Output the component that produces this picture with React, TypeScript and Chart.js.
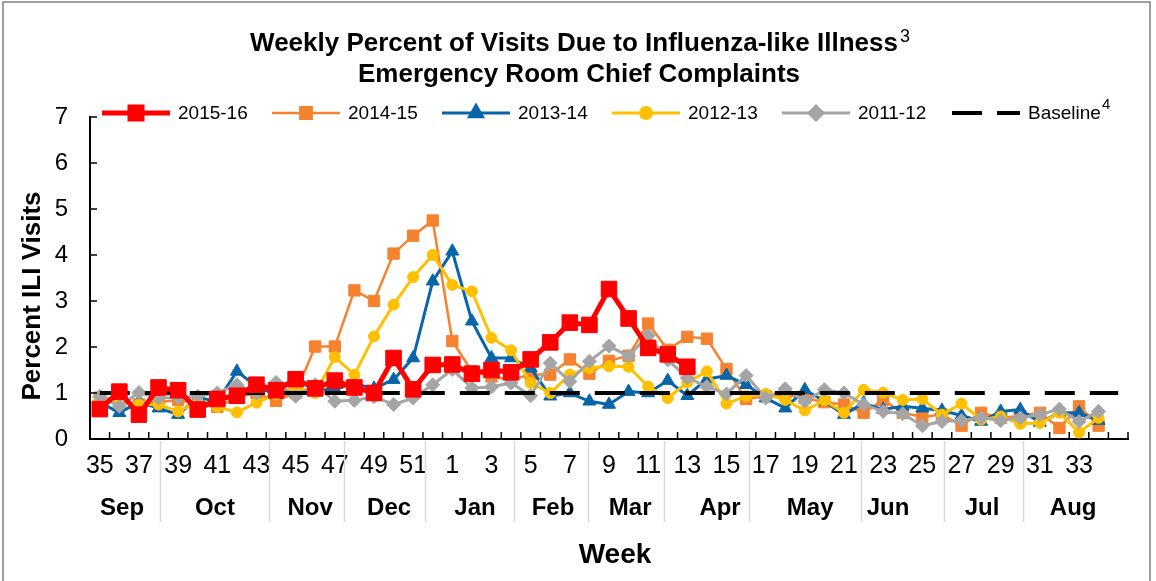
import { useEffect, useRef } from "react";
import { Chart, registerables } from "chart.js";
import { drawPoint } from "chart.js/helpers";

Chart.register(...registerables);

const weeks = [
  "35", "36", "37", "38", "39", "40", "41", "42", "43", "44", "45", "46", "47", "48", "49", "50", "51", "52",
  "1", "2", "3", "4", "5", "6", "7", "8", "9", "10", "11", "12", "13", "14", "15", "16", "17", "18",
  "19", "20", "21", "22", "23", "24", "25", "26", "27", "28", "29", "30", "31", "32", "33", "34", "",
];

const season2015 = [
  0.65, 1.03, 0.53, 1.12, 1.06, 0.64, 0.87, 0.94, 1.18, 1.06, 1.3, 1.1, 1.27, 1.12, 1.0, 1.76, 1.08, 1.61,
  1.62, 1.42, 1.5, 1.45, 1.73, 2.1, 2.53, 2.48, 3.26, 2.62, 1.98, 1.84, 1.57,
];
const season2014 = [
  0.9, 0.85, 0.75, 0.8, 0.85, 0.75, 0.7, 0.9, 1.0, 0.83, 1.0, 2.01, 2.01, 3.23, 3.0, 4.03, 4.42, 4.75,
  2.13, 1.47, 1.36, 1.29, 1.4, 1.4, 1.73, 1.42, 1.7, 1.81, 2.51, 1.94, 2.22, 2.18, 1.52, 0.87, 0.93, 0.96,
  0.89, 0.8, 0.75, 0.57, 0.85, 0.57, 0.48, 0.53, 0.29, 0.57, 0.46, 0.5, 0.57, 0.24, 0.71, 0.29,
];
const season2013 = [
  0.8, 0.57, 0.8, 0.67, 0.53, 0.9, 0.82, 1.47, 1.14, 0.96, 1.0, 1.05, 1.09, 1.2, 1.1, 1.29, 1.76, 3.43,
  4.08, 2.56, 1.76, 1.76, 1.54, 0.93, 1.0, 0.82, 0.75, 1.03, 1.0, 1.27, 0.94, 1.3, 1.38, 1.18, 0.89, 0.67,
  1.07, 0.82, 0.53, 0.78, 0.64, 0.71, 0.67, 0.62, 0.51, 0.38, 0.6, 0.64, 0.36, 0.57, 0.57, 0.4,
];
const season2012 = [
  0.88, 0.8, 0.75, 0.75, 0.6, 0.8, 0.7, 0.58, 0.79, 0.97, 1.13, 1.0, 1.78, 1.4, 2.23, 2.92, 3.52, 4.0,
  3.35, 3.21, 2.2, 1.93, 1.22, 1.0, 1.4, 1.54, 1.58, 1.57, 1.14, 0.89, 1.23, 1.47, 0.77, 0.93, 0.98, 0.85,
  0.62, 0.84, 0.57, 1.07, 1.01, 0.85, 0.87, 0.53, 0.77, 0.42, 0.49, 0.33, 0.35, 0.57, 0.14, 0.46,
];
const season2011 = [
  0.93, 0.71, 1.01, 0.89, 0.9, 0.93, 1.0, 1.18, 1.0, 1.23, 0.93, 1.18, 0.82, 0.84, 0.92, 0.75, 0.89, 1.18,
  1.51, 1.11, 1.13, 1.22, 0.94, 1.65, 1.25, 1.69, 2.02, 1.8, 2.25, 1.72, 1.33, 1.14, 0.98, 1.38, 0.89, 1.09,
  0.82, 1.07, 1.0, 0.75, 0.6, 0.55, 0.29, 0.38, 0.4, 0.46, 0.4, 0.46, 0.53, 0.65, 0.38, 0.6,
];
const baseline = [
  1.0, 1.0, 1.0, 1.0, 1.0, 1.0, 1.0, 1.0, 1.0, 1.0, 1.0, 1.0, 1.0, 1.0, 1.0, 1.0, 1.0, 1.0,
  1.0, 1.0, 1.0, 1.0, 1.0, 1.0, 1.0, 1.0, 1.0, 1.0, 1.0, 1.0, 1.0, 1.0, 1.0, 1.0, 1.0, 1.0,
  1.0, 1.0, 1.0, 1.0, 1.0, 1.0, 1.0, 1.0, 1.0, 1.0, 1.0, 1.0, 1.0, 1.0, 1.0, 1.0, 1.0,
];

const yTicks = [0, 1, 2, 3, 4, 5, 6, 7];
const months = ["Sep", "Oct", "Nov", "Dec", "Jan", "Feb", "Mar", "Apr", "May", "Jun", "Jul", "Aug"];
// month label centres and separators, in category units along the week axis
const monthCenters = [1.14, 5.88, 10.74, 14.77, 19.16, 23.14, 27.08, 31.67, 36.27, 40.25, 45.05, 49.7];
const monthSeparators = [3.07, 8.64, 12.47, 16.6, 21.15, 24.93, 28.81, 33.15, 38.87, 43.11, 47.15];

const titleLine1 = "Weekly Percent of Visits Due to Influenza-like Illness";
const titleSup = "3";
const titleLine2 = "Emergency Room Chief Complaints";
const yTitle = "Percent ILI Visits";
const xTitle = "Week";
const baselineSup = "4";

const FONT = '"Liberation Sans", Arial, sans-serif';
const NARROW = '"Liberation Sans Narrow", "Arial Narrow", "Liberation Sans", sans-serif';

const decor = {
  id: "decor",
  afterDraw(chart: any) {
    const { ctx, chartArea } = chart;
    const xs = chart.scales.x;
    const ys = chart.scales.y;
    const n = chart.data.labels.length;
    ctx.save();
    // inner tick marks
    ctx.strokeStyle = "#000";
    ctx.lineWidth = 1.5;
    ctx.beginPath();
    for (let k = 0; k <= n; k++) {
      const x = xs.getPixelForValue(k - 0.5);
      ctx.moveTo(x, chartArea.bottom);
      ctx.lineTo(x, chartArea.bottom - 7);
    }
    yTicks.forEach((v) => {
      const y = ys.getPixelForValue(v);
      ctx.moveTo(chartArea.left, y);
      ctx.lineTo(chartArea.left + 7, y);
    });
    ctx.stroke();

    // month separators
    ctx.strokeStyle = "#d9d9d9";
    ctx.lineWidth = 1.5;
    ctx.beginPath();
    monthSeparators.forEach((m) => {
      const x = Math.round(xs.getPixelForValue(m)) + 0.5;
      ctx.moveTo(x, chartArea.bottom + 2);
      ctx.lineTo(x, chartArea.bottom + 83);
    });
    ctx.stroke();

    ctx.fillStyle = "#000";
    ctx.textAlign = "center";
    ctx.textBaseline = "middle";
    ctx.font = `bold 24px ${NARROW}`;
    months.forEach((m, i) => {
      ctx.fillText(m, xs.getPixelForValue(monthCenters[i]), 508);
    });
    ctx.font = `bold 28px ${NARROW}`;
    ctx.fillText(xTitle, 615, 555);

    // y title
    ctx.save();
    ctx.translate(33, 296);
    ctx.rotate(-Math.PI / 2);
    ctx.font = `bold 26px ${FONT}`;
    ctx.fillText(yTitle, 0, 0);
    ctx.restore();

    // title
    ctx.textAlign = "left";
    ctx.textBaseline = "alphabetic";
    ctx.font = `bold 26px ${FONT}`;
    const w1 = ctx.measureText(titleLine1).width;
    ctx.font = `18px ${FONT}`;
    const ws = ctx.measureText(titleSup).width;
    const sx = 580 - (w1 + ws + 2) / 2;
    ctx.font = `bold 26px ${FONT}`;
    ctx.fillText(titleLine1, sx, 51);
    ctx.font = `18px ${FONT}`;
    ctx.fillText(titleSup, sx + w1 + 2, 42);
    ctx.font = `bold 26px ${FONT}`;
    ctx.textAlign = "center";
    ctx.fillText(titleLine2, 579, 82);

    // legend
    const ly = 113;
    chart.data.datasets.forEach((ds: any, i: number) => {
      const x = 102 + i * 170;
      ctx.save();
      ctx.strokeStyle = ds.borderColor;
      ctx.lineWidth = ds.borderWidth;
      ctx.setLineDash(ds.borderDash || []);
      ctx.beginPath();
      ctx.moveTo(x, ly);
      ctx.lineTo(x + 68, ly);
      ctx.stroke();
      ctx.setLineDash([]);
      if (ds.pointRadius > 0) {
        ctx.fillStyle = ds.pointBackgroundColor;
        ctx.strokeStyle = ds.pointBorderColor;
        const r = Math.min(ds.pointRadius, 8.5);
        drawPoint(ctx, { pointStyle: ds.pointStyle, radius: r, rotation: 0, borderWidth: 1 }, x + 34, ly);
      }
      ctx.fillStyle = "#000";
      ctx.textAlign = "left";
      ctx.textBaseline = "middle";
      ctx.font = `19px ${FONT}`;
      ctx.fillText(ds.label, x + 76, ly + 1);
      if (ds.label === "Baseline") {
        const w = ctx.measureText(ds.label).width;
        ctx.font = `15px ${FONT}`;
        ctx.fillText(baselineSup, x + 77 + w, ly - 8);
      }
      ctx.restore();
    });

    // outer frame
    ctx.strokeStyle = "#808080";
    ctx.lineWidth = 1.5;
    ctx.strokeRect(3, 2, 1147, 640);
    ctx.restore();
  },
};

export default function App() {
  const ref = useRef<HTMLCanvasElement>(null);
  useEffect(() => {
    document.body.style.margin = "0";
    const mk = (label: string, data: number[], color: string, width: number, style: string, radius: number, order: number) => ({
      label,
      data,
      borderColor: color,
      backgroundColor: color,
      pointBackgroundColor: color,
      pointBorderColor: color,
      borderWidth: width,
      pointStyle: style,
      pointRadius: radius,
      pointBorderWidth: 1,
      order,
      tension: 0,
      spanGaps: false,
    });
    const chart = new Chart(ref.current!, {
      type: "line",
      data: {
        labels: weeks,
        datasets: [
          mk("2015-16", season2015, "#ff0000", 5, "rect", 11, 0),
          mk("2014-15", season2014, "#f5822f", 2.5, "rect", 8, 5),
          mk("2013-14", season2013, "#0865a8", 3, "triangle", 7.5, 4),
          mk("2012-13", season2012, "#ffc000", 3, "circle", 5.5, 3),
          mk("2011-12", season2011, "#a5a5a5", 3, "rectRot", 7, 2),
          {
            label: "Baseline",
            data: baseline,
            borderColor: "#000",
            backgroundColor: "#000",
            borderWidth: 4,
            borderDash: [30, 15],
            pointRadius: 0,
            order: 1,
          } as any,
        ],
      },
      options: {
        responsive: false,
        animation: false,
        layout: { padding: { left: 0, top: 117, right: 28, bottom: 0 } },
        plugins: { legend: { display: false }, title: { display: false }, tooltip: { enabled: false } },
        scales: {
          x: {
            type: "category",
            offset: true,
            grid: { display: false, drawTicks: false },
            border: { display: true, color: "#000", width: 2 },
            ticks: {
              autoSkip: false,
              maxRotation: 0,
              minRotation: 0,
              padding: 12,
              color: "#000",
              font: { family: NARROW, size: 25 },
              callback: (_v: any, i: number) => (i % 2 === 0 ? weeks[i] : ""),
            },
            afterFit: (s: any) => {
              s.height = 142;
            },
          },
          y: {
            min: 0,
            max: 7,
            grid: { display: false, drawTicks: false },
            border: { display: true, color: "#000", width: 2 },
            ticks: {
              stepSize: 1,
              padding: 22,
              color: "#000",
              font: { family: FONT, size: 24 },
            },
            afterFit: (s: any) => {
              s.width = 90;
            },
          },
        },
      },
      plugins: [decor],
    });
    return () => chart.destroy();
  }, []);
  return (
    <div style={{ width: 1156, height: 581 }}>
      <canvas ref={ref} width={1156} height={581} />
    </div>
  );
}
